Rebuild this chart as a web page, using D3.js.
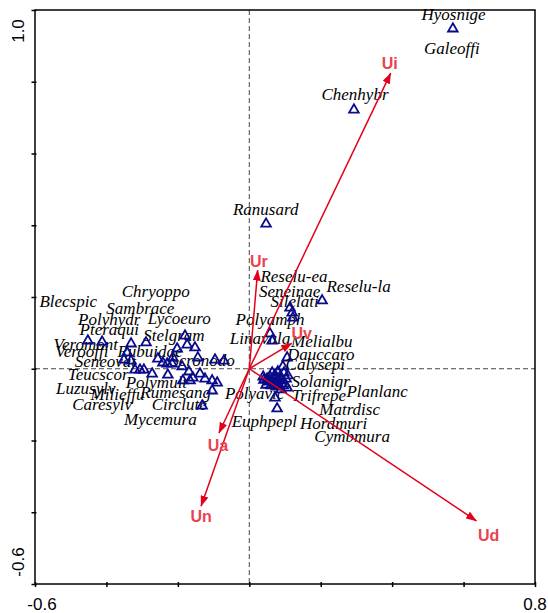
<!DOCTYPE html>
<html>
<head>
<meta charset="utf-8">
<script src="https://cdn.jsdelivr.net/npm/d3@7/dist/d3.min.js"></script>
<style>
  html, body { margin: 0; padding: 0; background: #fff; }
  svg { display: block; }
</style>
</head>
<body>
<svg id="chart" width="548" height="613"></svg>
<script>
// Axis extents and ticks (axis 1 horizontal, axis 2 vertical)
const xDomain = [-0.6, 0.8];
const yDomain = [-0.6, 1.0];
const xTicks = [-0.6, -0.4, -0.2, 0.0, 0.2, 0.4, 0.6, 0.8];
const yTicks = [-0.6, -0.4, -0.2, 0.0, 0.2, 0.4, 0.6, 0.8, 1.0];
const xTickLabels = ["-0.6", "0.8"];
const yTickLabels = ["-0.6", "1.0"];

// Species scores
const speciesScores = [
  [-0.452, 0.080], [-0.412, 0.077], [-0.331, 0.072], [-0.289, 0.075],
  [-0.342, 0.047], [-0.351, 0.027], [-0.331, 0.024], [-0.320, -0.001],
  [-0.306, -0.001], [-0.295, -0.001], [-0.272, -0.012], [-0.256, 0.030],
  [-0.242, 0.019], [-0.230, 0.016], [-0.216, 0.016], [-0.228, -0.015],
  [-0.214, 0.033], [-0.180, 0.094], [-0.202, 0.058], [-0.174, 0.069],
  [-0.152, 0.061], [-0.188, 0.008], [-0.144, 0.033], [-0.096, 0.027],
  [-0.071, 0.024], [-0.169, -0.006], [-0.138, -0.012], [-0.124, -0.026],
  [-0.104, -0.031], [-0.090, -0.037], [-0.186, -0.031], [-0.166, -0.031],
  [-0.158, -0.023], [-0.104, -0.059], [-0.132, -0.101],
  [0.570, 0.950], [0.293, 0.724], [0.047, 0.406], [0.204, 0.192],
  [0.114, 0.172], [0.120, 0.158], [0.122, 0.144], [0.058, 0.100],
  [0.064, 0.080], [0.106, 0.033], [0.094, 0.008], [0.108, -0.017],
  [0.106, -0.051], [0.072, -0.079], [0.078, -0.109],
  [0.041, -0.029], [0.052, -0.034], [0.058, -0.020], [0.066, -0.037],
  [0.072, -0.015], [0.078, -0.029], [0.083, -0.043], [0.086, -0.020],
  [0.092, -0.031], [0.100, -0.040], [0.061, -0.045], [0.075, -0.048],
  [0.080, -0.006], [0.097, -0.009], [0.047, -0.043], [0.089, -0.056],
  [0.069, -0.026], [0.055, -0.029], [0.039, -0.020], [0.050, -0.026],
  [0.061, -0.031], [0.075, -0.040], [0.083, -0.031], [0.095, -0.045],
  [0.064, -0.009], [0.103, -0.026]
];

// Species label anchors (centre of text, baseline)
const speciesLabels = [
  ["Hyosnige", 0.572, 0.971], ["Galeoffi", 0.567, 0.877], ["Chenhybr", 0.296, 0.749],
  ["Ranusard", 0.046, 0.429], ["Reselu-ea", 0.125, 0.243], ["Reselu-la", 0.306, 0.215],
  ["Seneinae", 0.113, 0.201], ["Silelati", 0.127, 0.171], ["Polyamph", 0.058, 0.122],
  ["Linavulg", 0.030, 0.069], ["Melialbu", 0.203, 0.060], ["Dauccaro", 0.200, 0.024],
  ["Calysepi", 0.185, -0.004], ["Solanigr", 0.200, -0.050], ["Planlanc", 0.358, -0.078],
  ["Trifrepe", 0.195, -0.089], ["Polyavic", 0.015, -0.085], ["Matrdisc", 0.281, -0.129],
  ["Euphpepl", 0.042, -0.162], ["Hordmuri", 0.236, -0.169], ["Cymbmura", 0.288, -0.203],
  ["Blecspic", -0.507, 0.173], ["Chryoppo", -0.262, 0.201], ["Sambrace", -0.305, 0.153],
  ["Polyhydr", -0.392, 0.122], ["Lycoeuro", -0.196, 0.125], ["Pteraqui", -0.392, 0.094],
  ["Stelgram", -0.211, 0.078], ["Veromont", -0.458, 0.052], ["Verooffi", -0.469, 0.032],
  ["Rubuidae", -0.278, 0.032], ["Seneovat", -0.403, 0.004], ["Scronodo", -0.131, 0.008],
  ["Teucscor", -0.423, -0.031], ["Polymult", -0.260, -0.055], ["Luzusylv", -0.458, -0.070],
  ["Milieffu", -0.369, -0.087], ["Rumesang", -0.206, -0.082], ["Caresylv", -0.412, -0.115],
  ["Circlute", -0.196, -0.115], ["Mycemura", -0.249, -0.157]
];

// Environmental vectors: name, tip x, tip y
const envVectors = [
  ["Ui", 0.396, 0.824], ["Ud", 0.636, -0.424], ["Un", -0.135, -0.383],
  ["Ua", -0.085, -0.179], ["Ur", 0.0235, 0.275], ["Uv", 0.119, 0.071]
];
// Vector label centres
const envLabels = [
  ["Ui", 0.393, 0.850], ["Ud", 0.670, -0.465], ["Un", -0.135, -0.411],
  ["Ua", -0.088, -0.215], ["Ur", 0.027, 0.299], ["Uv", 0.147, 0.099]
];

const svg = d3.select("#chart");
const x = d3.scaleLinear().domain(xDomain).range([35, 535]);
const y = d3.scaleLinear().domain(yDomain).range([584, 10]);

const serif = "'Liberation Serif', 'Times New Roman', serif";
const sans = "'Liberation Sans', Arial, Helvetica, sans-serif";
const arrowRed = "#e3001b";
const labelRed = "#e8434f";
const navy = "#0a0a8c";

// Dashed zero lines
svg.append("line")
  .attr("x1", x(0)).attr("x2", x(0)).attr("y1", y(1.0)).attr("y2", y(-0.6))
  .attr("stroke", "#444").attr("stroke-width", 1).attr("stroke-dasharray", "5,3");
svg.append("line")
  .attr("x1", x(-0.6)).attr("x2", x(0.8)).attr("y1", y(0)).attr("y2", y(0))
  .attr("stroke", "#444").attr("stroke-width", 1).attr("stroke-dasharray", "5,3");

// Species labels
svg.append("g").selectAll("text").data(speciesLabels).join("text")
  .attr("x", d => x(d[1])).attr("y", d => y(d[2]))
  .attr("text-anchor", "middle")
  .attr("font-family", serif).attr("font-style", "italic").attr("font-size", 17)
  .attr("fill", "#000")
  .text(d => d[0]);

// Species triangles
const tri = d3.symbol().type(d3.symbolTriangle).size(40);
svg.append("g").selectAll("path").data(speciesScores).join("path")
  .attr("d", tri)
  .attr("transform", d => `translate(${x(d[0])},${y(d[1]) + 0.8})`)
  .attr("fill", "none").attr("stroke", navy).attr("stroke-width", 1.8);

// Arrowhead
svg.append("defs").append("marker")
  .attr("id", "head").attr("viewBox", "0 0 11 8")
  .attr("refX", 10.5).attr("refY", 4)
  .attr("markerWidth", 11).attr("markerHeight", 8)
  .attr("markerUnits", "userSpaceOnUse").attr("orient", "auto")
  .append("path").attr("d", "M0,0 L11,4 L0,8 Z").attr("fill", arrowRed);

svg.append("g").selectAll("line").data(envVectors).join("line")
  .attr("x1", x(0)).attr("y1", y(0))
  .attr("x2", d => x(d[1])).attr("y2", d => y(d[2]))
  .attr("stroke", arrowRed).attr("stroke-width", 1.5)
  .attr("marker-end", "url(#head)");

svg.append("g").selectAll("text").data(envLabels).join("text")
  .attr("x", d => x(d[1])).attr("y", d => y(d[2]))
  .attr("text-anchor", "middle").attr("dominant-baseline", "central")
  .attr("font-family", sans).attr("font-weight", "bold").attr("font-size", 16)
  .attr("fill", labelRed)
  .text(d => d[0]);

// Frame
svg.append("rect")
  .attr("x", x(-0.6)).attr("y", y(1.0))
  .attr("width", x(0.8) - x(-0.6)).attr("height", y(-0.6) - y(1.0))
  .attr("fill", "none").attr("stroke", "#000").attr("stroke-width", 1.5);

// Axes with ticks on left and bottom only
const xAxis = d3.axisBottom(x).tickValues(xTicks).tickSize(5).tickFormat("");
const gx = svg.append("g").attr("transform", `translate(0,${y(-0.6) - 2})`).call(xAxis);
gx.select(".domain").remove();
gx.selectAll(".tick line").attr("stroke", "#000").attr("stroke-width", 1.5);

const yAxis = d3.axisLeft(y).tickValues(yTicks).tickSize(5).tickFormat("");
const gy = svg.append("g").attr("transform", `translate(${x(-0.6) + 1.5},0)`).call(yAxis);
gy.select(".domain").remove();
gy.selectAll(".tick line").attr("stroke", "#000").attr("stroke-width", 1.5);

// End tick labels
svg.append("text").attr("x", x(-0.6) + 7).attr("y", 610)
  .attr("text-anchor", "middle").attr("font-family", sans).attr("font-size", 17)
  .text(xTickLabels[0]);
svg.append("text").attr("x", x(0.8)).attr("y", 610)
  .attr("text-anchor", "middle").attr("font-family", sans).attr("font-size", 17)
  .text(xTickLabels[1]);
svg.append("text").attr("transform", `translate(24,${y(-0.6) - 22}) rotate(-90)`)
  .attr("text-anchor", "middle").attr("font-family", sans).attr("font-size", 17)
  .text(yTickLabels[0]);
svg.append("text").attr("transform", `translate(24,${y(1.0) + 21}) rotate(-90)`)
  .attr("text-anchor", "middle").attr("font-family", sans).attr("font-size", 17)
  .text(yTickLabels[1]);
</script>
</body>
</html>
